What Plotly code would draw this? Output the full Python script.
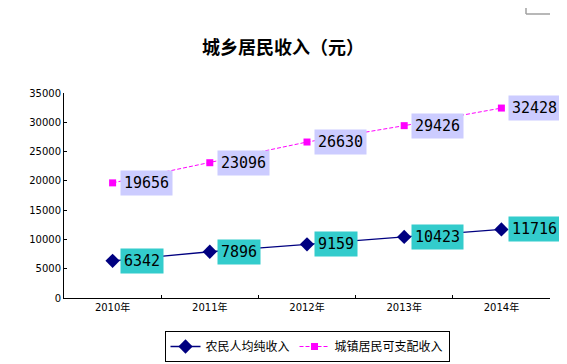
import plotly.graph_objects as go

years = ["2010年", "2011年", "2012年", "2013年", "2014年"]
rural = [6342, 7896, 9159, 10423, 11716]
urban = [19656, 23096, 26630, 29426, 32428]
rural_name = "农民人均纯收入"
urban_name = "城镇居民可支配收入"
title_text = "城乡居民收入（元）"

FONT = "DejaVu Sans, Noto Sans CJK SC"
LABEL_FONT = "DejaVu Sans Mono, Noto Sans CJK SC"

# page body has an 8px margin; figure coordinates are offset accordingly
W, H = 559, 356
L, R, T, B = 56, 17, 85, 66
PW, PH = W - L - R, H - T - B

fig = go.Figure()
fig.add_trace(go.Scatter(
    x=years, y=rural, name=rural_name, mode="lines+markers",
    line=dict(color="#000080", width=1.3),
    marker=dict(symbol="diamond", size=11, color="#000080"),
))
fig.add_trace(go.Scatter(
    x=years, y=urban, name=urban_name, mode="lines+markers",
    line=dict(color="#FF00FF", width=1, dash="4px,2px"),
    marker=dict(symbol="square", size=7, color="#FF00FF"),
))

annotations = []
for xs, ys, bg in ((years, rural, "#33CCCC"), (years, urban, "#CCCCFF")):
    for xv, yv in zip(xs, ys):
        annotations.append(dict(
            x=xv, y=yv, xref="x", yref="y", text=str(yv), showarrow=False,
            xanchor="left", yanchor="middle", xshift=7,
            bgcolor=bg, borderpad=3,
            font=dict(family=LABEL_FONT, size=15, color="black"),
        ))

fig.update_layout(
    width=W, height=H,
    margin=dict(l=L, r=R, t=T, b=B, autoexpand=False),
    paper_bgcolor="white", plot_bgcolor="white",
    title=dict(text="<b>" + title_text + "</b>", xref="container", x=275 / W, xanchor="center",
               y=1 - 40 / H, yref="container", yanchor="middle",
               font=dict(family="Noto Sans CJK SC", size=18, color="black")),
    showlegend=True,
    legend=dict(orientation="h", xref="container", x=299 / W, xanchor="center",
                yref="container", y=1 - 323 / H, yanchor="top",
                bordercolor="black", borderwidth=1, bgcolor="white",
                font=dict(family="Noto Sans CJK SC", size=12, color="black"),
                itemwidth=30, tracegroupgap=0),
    annotations=annotations,
    shapes=[
        dict(type="line", xref="paper", yref="paper", x0=(518 - L) / PW, x1=1,
             y0=(PH + T - 6) / PH, y1=(PH + T - 6) / PH, line=dict(color="#A0A0A0", width=1.5)),
        dict(type="line", xref="paper", yref="paper", x0=(518 - L) / PW, x1=(518 - L) / PW,
             y0=(PH + T - 6) / PH, y1=(PH + T) / PH, line=dict(color="#A0A0A0", width=1.5)),
    ],
)
fig.update_xaxes(
    type="category", range=[-0.5, 4.5], showgrid=False, zeroline=False,
    showline=True, linecolor="black", linewidth=1,
    ticks="inside", ticklen=3, tickcolor="black", tickson="boundaries",
    tickfont=dict(family=FONT, size=10, color="black"),
)
fig.update_yaxes(
    range=[0, 35000], dtick=5000, showgrid=False, zeroline=False,
    showline=True, linecolor="black", linewidth=1,
    ticks="inside", ticklen=3, tickcolor="black",
    tickfont=dict(family=FONT, size=10, color="black"), tickformat="d",
)

fig.write_html("out.html")
